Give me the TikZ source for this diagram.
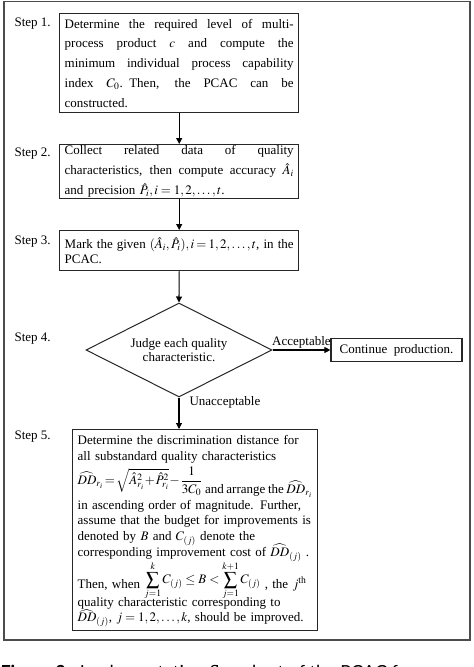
\documentclass[tikz,border=0pt]{standalone}
\usepackage{amsmath}
\usepackage{mathptmx}
\usepackage{fontspec}
\setmainfont{Liberation Serif}
\newfontfamily\capfont{Lato}
\usetikzlibrary{positioning,shapes.geometric,arrows.meta}

% one justified line of a box
\newcommand{\jline}[2][229pt]{\makebox[#1][s]{\spaceskip=0.25em plus 1fil\relax #2}}
% hatted distance, kept out of the line height
\newcommand{\ddist}[1]{\smash{$\widehat{DD}_{#1}$}}

\tikzset{
  every node/.style={font=\fontsize{13}{16}\selectfont},
  stepbox/.style={draw=black!85, line width=1.4pt, anchor=north west,
    inner xsep=5pt, inner ysep=0pt, align=left},
  decision/.style={diamond, aspect=2, draw=black!85, line width=1pt, minimum width=186pt,
    minimum height=94pt, inner sep=0pt, align=center},
  steplabel/.style={anchor=base west, inner sep=0pt},
}

\begin{document}
\begin{tikzpicture}[x=1pt, y=1pt, >={Triangle[length=6pt,width=6pt]}, line width=1.1pt]

\useasboundingbox (0,0) rectangle (474,-667);
\draw [gray!60!black, line width=1.2pt] (4,-1.5) rectangle (470,-640);

\foreach \n/\y in {1/26,2/156,3/244,4/341,5/439}
  \node [steplabel] (label-\n) at (14,-\y) {Step \n.};

\node [stepbox, text width=229pt, minimum height=99pt,
  font=\fontsize{13}{19.8}\selectfont] (step1) at (59,-13)
  {\jline{Determine the required level of multi-}\\
   \jline{process product $c$ and compute the}\\
   \jline{minimum individual process capability}\\
   \jline{index $C_0$. Then, the PCAC can be}\\
   constructed.};

\node [stepbox, text width=229pt, minimum height=54pt,
  font=\fontsize{13}{20}\selectfont] (step2) at (59,-144)
  {\jline{Collect related data of quality}\\
   \jline{characteristics, then compute accuracy $\hat{A}_i$}\\
   and precision $\hat{P}_i, i=1,2,\ldots,t$.};

\node [stepbox, text width=229pt, minimum height=40pt,
  font=\fontsize{13}{15}\selectfont] (step3) at (59,-230)
  {\jline{\medmuskip=2mu\thickmuskip=3mu Mark the given $(\hat{A}_i,\hat{P}_i), i=1,2,\ldots,t$, in the}\\
   PCAC.};

\node [decision, font=\fontsize{13}{14.5}\selectfont] (judge) at (179,-350)
  {Judge each quality\\characteristic.};

\node [draw=black!85, line width=1.2pt, minimum width=131pt, minimum height=23pt,
  inner sep=2pt] (cont) at (396.5,-350) {Continue\ \ production.};

\node [stepbox, text width=235pt, minimum height=201pt,
  font=\fontsize{13}{15.7}\selectfont] (step5) at (72,-429)
  {Determine the discrimination distance for\\
   all substandard quality characteristics\\[17.3pt]
   \makebox[235pt][l]{\medmuskip=1mu\thickmuskip=2mu\spaceskip=0.2em\relax
   \smash{\raisebox{9pt}{$\widehat{DD}_{r_i}=\sqrt{\hat{A}_{r_i}^2+\hat{P}_{r_i}^2}-\dfrac{1}{3C_0}$}}
   and arrange the \ddist{r_i}}\\
   in ascending order of magnitude. Further,\\
   assume that the budget for improvements is\\
   denoted by $B$ and $C_{(j)}$ denote the\\
   corresponding improvement cost of \ddist{(j)} .\\[16.3pt]
   Then, when \smash{\raisebox{5pt}{$\displaystyle\sum_{j=1}^{k}C_{(j)}\le B<\sum_{j=1}^{k+1}C_{(j)}$}} , the $j^{\text{th}}$\\[2.3pt]
   quality characteristic corresponding to\\
   \ddist{(j)}, $j=1,2,\ldots,k$, should be improved.};

\draw [->] (step1.south) -- (step2.north);
\draw [->] (step2.south) -- (step3.north);
\draw [->] (step3.south) -- (judge.north);
\draw [->] (judge.east) -- (judge.east -| cont.west)
  node [above, midway, inner sep=1pt] {Acceptable};
\draw [->] (judge.south) -- (judge.south |- step5.north)
  node [right=10pt, pos=0.15, inner sep=0pt] {Unacceptable};

\node [anchor=base west, inner sep=0pt] (caption) at (0,-678)
  {\capfont\fontsize{18}{21}\selectfont\textbf{Figure 2}\hspace{14pt}Implementation flowchart of the PCAC f};

\end{tikzpicture}
\end{document}
